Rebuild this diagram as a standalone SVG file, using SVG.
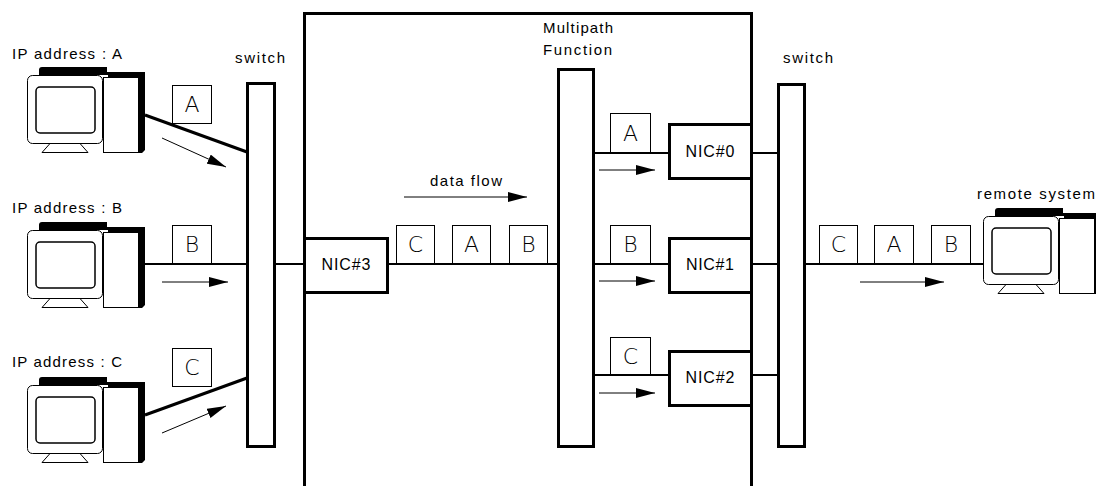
<svg xmlns="http://www.w3.org/2000/svg" xmlns:xlink="http://www.w3.org/1999/xlink" width="1096" height="486" viewBox="0 0 1096 486">
<style>
.wire{stroke:#000;stroke-width:2;fill:none}
.thick{stroke-width:3}
.box{fill:#fff;stroke:#000;stroke-width:3}
.pkt{fill:#fff;stroke:#000;stroke-width:1}
.arr{stroke:#000;stroke-width:1;fill:none;marker-end:url(#ah)}
.lbl{font-family:"Liberation Sans",Arial,sans-serif;font-size:15px;fill:#000}
.nic{font-family:"Liberation Sans",Arial,sans-serif;font-size:16px;fill:#000;text-anchor:middle}
.pl{font-family:"DejaVu Sans","Liberation Sans",sans-serif;font-weight:200;font-size:22px;fill:#000;text-anchor:middle}
</style>
<defs>
<marker id="ah" markerUnits="userSpaceOnUse" markerWidth="19" markerHeight="10" refX="19" refY="5" orient="auto" viewBox="0 0 19 10">
<path d="M0,0 L19,5 L0,10 Z" fill="#000"/>
</marker>
<g id="pc">
<path d="M42,67 H107 V72 H145 V150 L142,153 H139 V77 H108 V75 H39 V70 Q39,67 42,67 Z" fill="#000"/>
<rect x="103.5" y="77.5" width="35" height="75" fill="#fff" stroke="#000" stroke-width="1"/>
<path d="M50,143.5 L80,143.5 L88,152.5 L42,152.5 Z" fill="#fff" stroke="#000" stroke-width="1"/>
<rect x="27.5" y="75.5" width="75" height="68" rx="5" fill="#fff" stroke="#000" stroke-width="1"/>
<rect x="36" y="87" width="59" height="46" rx="4" fill="none" stroke="#000" stroke-width="1.5"/>
</g>
</defs>
<rect width="1096" height="486" fill="#fff"/>

<g id="system-box">
<path d="M304.5,492 V13.5 H751.5 V492" fill="none" stroke="#000" stroke-width="3"/>
</g>

<g id="connectors">
<line class="wire thick" x1="145" y1="115" x2="247" y2="152"/>
<line class="wire" x1="145" y1="264" x2="247" y2="264"/>
<line class="wire thick" x1="145" y1="415" x2="247" y2="378"/>
<line class="wire" x1="276" y1="264" x2="304" y2="264"/>
<line class="wire" x1="388" y1="264" x2="558" y2="264"/>
<line class="wire" x1="594" y1="153" x2="669" y2="153"/>
<line class="wire" x1="594" y1="264" x2="669" y2="264"/>
<line class="wire" x1="594" y1="375" x2="669" y2="375"/>
<line class="wire" x1="751" y1="153" x2="778" y2="153"/>
<line class="wire" x1="751" y1="264" x2="778" y2="264"/>
<line class="wire" x1="751" y1="375" x2="778" y2="375"/>
<line class="wire" x1="806" y1="264" x2="984" y2="264"/>
<line class="arr" x1="162" y1="138" x2="226" y2="167"/>
<line class="arr" x1="162" y1="282" x2="228" y2="282"/>
<line class="arr" x1="162" y1="433" x2="226" y2="406"/>
<line class="arr" x1="404" y1="197" x2="527" y2="197"/>
<line class="arr" x1="599" y1="170" x2="655" y2="170"/>
<line class="arr" x1="599" y1="281" x2="655" y2="281"/>
<line class="arr" x1="599" y1="393" x2="655" y2="393"/>
<line class="arr" x1="860" y1="282" x2="944" y2="282"/>
</g>

<g id="pc-a"><use xlink:href="#pc" href="#pc"/><text class="lbl" x="12" y="59" textLength="110" lengthAdjust="spacing">IP address : A</text></g>
<g id="pc-b"><use xlink:href="#pc" href="#pc" transform="translate(0,155)"/><text class="lbl" x="12" y="213" textLength="110" lengthAdjust="spacing">IP address : B</text></g>
<g id="pc-c"><use xlink:href="#pc" href="#pc" transform="translate(0,310)"/><text class="lbl" x="12" y="367" textLength="110" lengthAdjust="spacing">IP address : C</text></g>
<g id="remote-system"><use xlink:href="#pc" href="#pc" transform="translate(956,141)"/><text class="lbl" x="977" y="199" textLength="118" lengthAdjust="spacing">remote system</text></g>

<g id="switch-left"><rect x="247.5" y="83.5" width="27" height="363" fill="#fff" stroke="#000" stroke-width="3"/><text class="lbl" x="235" y="63" textLength="50" lengthAdjust="spacing">switch</text></g>
<g id="switch-right"><rect x="778.5" y="84.5" width="26" height="362" fill="#fff" stroke="#000" stroke-width="3"/><text class="lbl" x="783" y="63" textLength="50" lengthAdjust="spacing">switch</text></g>

<g id="multipath"><rect x="558.5" y="69.5" width="35" height="377" fill="#fff" stroke="#000" stroke-width="3"/>
<text class="lbl" x="543" y="33" textLength="70" lengthAdjust="spacing">Multipath</text>
<text class="lbl" x="543" y="55" textLength="69" lengthAdjust="spacing">Function</text></g>

<g id="nic3"><rect class="box" x="304.5" y="238.5" width="83" height="54"/><text class="nic" x="346" y="270" textLength="49" lengthAdjust="spacing">NIC#3</text></g>
<g id="nic0"><rect class="box" x="669.5" y="124.5" width="82" height="54"/><text class="nic" x="710" y="157" textLength="49" lengthAdjust="spacing">NIC#0</text></g>
<g id="nic1"><rect class="box" x="669.5" y="238.5" width="82" height="54"/><text class="nic" x="710" y="270" textLength="48" lengthAdjust="spacing">NIC#1</text></g>
<g id="nic2"><rect class="box" x="669.5" y="351.5" width="82" height="54"/><text class="nic" x="710" y="383" textLength="49" lengthAdjust="spacing">NIC#2</text></g>

<g id="data-flow-label"><text class="lbl" x="430" y="186" textLength="72" lengthAdjust="spacing">data flow</text></g>

<g id="packets">
<g id="pkt-a-in"><rect class="pkt" x="172.5" y="85.5" width="39" height="38"/><text class="pl" x="192" y="112">A</text></g>
<g id="pkt-b-in"><rect class="pkt" x="172.5" y="225.5" width="39" height="38"/><text class="pl" x="192" y="252">B</text></g>
<g id="pkt-c-in"><rect class="pkt" x="172.5" y="348.5" width="39" height="38"/><text class="pl" x="192" y="375">C</text></g>
<g id="pkt-c-mid"><rect class="pkt" x="396.5" y="225.5" width="38" height="38"/><text class="pl" x="415.5" y="252">C</text></g>
<g id="pkt-a-mid"><rect class="pkt" x="452.5" y="225.5" width="38" height="38"/><text class="pl" x="471.5" y="252">A</text></g>
<g id="pkt-b-mid"><rect class="pkt" x="509.5" y="225.5" width="38" height="38"/><text class="pl" x="528.5" y="252">B</text></g>
<g id="pkt-a-nic"><rect class="pkt" x="610.5" y="113.5" width="40" height="39"/><text class="pl" x="630.5" y="141">A</text></g>
<g id="pkt-b-nic"><rect class="pkt" x="610.5" y="225.5" width="40" height="38"/><text class="pl" x="630.5" y="252">B</text></g>
<g id="pkt-c-nic"><rect class="pkt" x="610.5" y="337.5" width="40" height="37"/><text class="pl" x="630.5" y="364">C</text></g>
<g id="pkt-c-out"><rect class="pkt" x="819.5" y="225.5" width="38" height="38"/><text class="pl" x="838.5" y="252">C</text></g>
<g id="pkt-a-out"><rect class="pkt" x="874.5" y="225.5" width="39" height="38"/><text class="pl" x="894" y="252">A</text></g>
<g id="pkt-b-out"><rect class="pkt" x="931.5" y="225.5" width="39" height="38"/><text class="pl" x="951" y="252">B</text></g>
</g>
</svg>
